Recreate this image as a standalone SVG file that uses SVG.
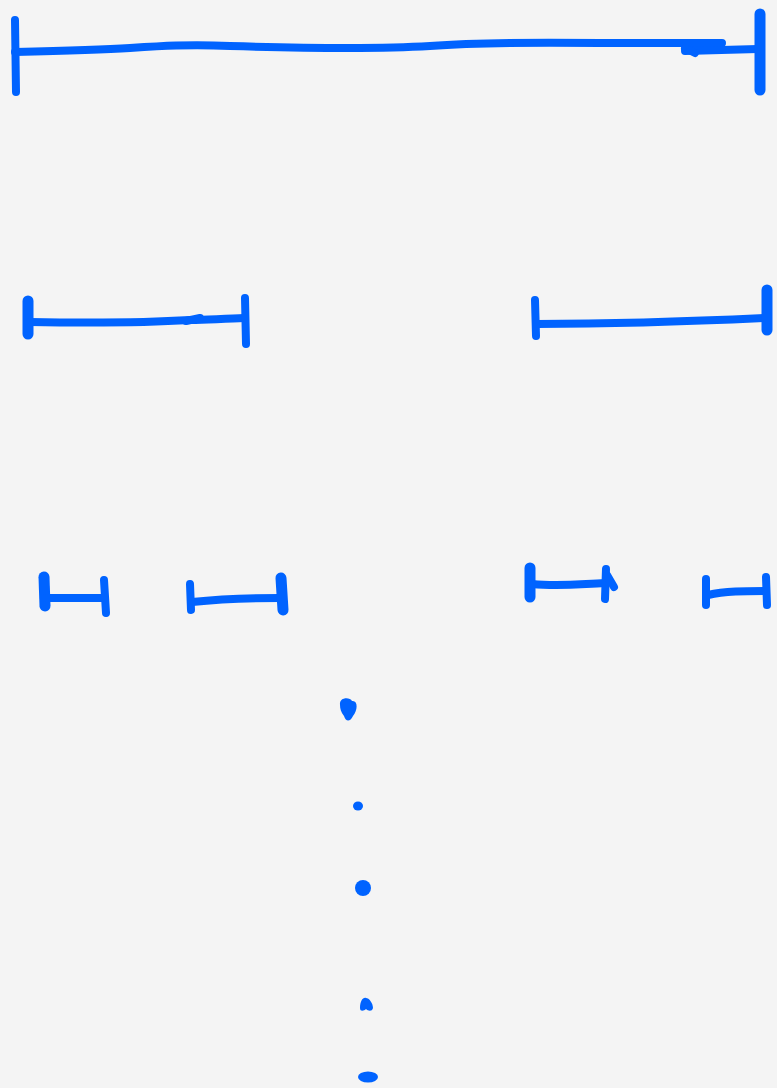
<svg xmlns="http://www.w3.org/2000/svg" width="777" height="1088" viewBox="0 0 777 1088">
<style>
.s{fill:none;stroke:#0063ff;stroke-width:8;stroke-linecap:round;stroke-linejoin:round}
.t{fill:none;stroke:#0063ff;stroke-width:11;stroke-linecap:round}
.d{fill:#0063ff}
</style>
<rect width="777" height="1088" fill="#f4f4f4"/>
<g id="level0">
<path class="s" d="M15,20 L16,92"/>
<path class="s" d="M15,52 C60,51 100,50 130,48 C160,46 190,44 230,46 C300,48 380,49 430,46 C470,43 520,42 600,43 L722,43"/>
<path class="s" d="M685,51 L758,49"/>
<path class="s" d="M685,48 L695,53"/>
<path class="t" d="M760,14 L760,90"/>
</g>
<g id="level1">
<path class="t" d="M28,301 L28,334"/>
<path class="s" d="M30,322 C90,323 140,323 190,320 C215,319 230,319 244,318"/>
<path class="s" d="M186,321 L200,318"/>
<path class="s" d="M245,298 L246,344"/>
<path class="s" d="M535,300 L536,336"/>
<path class="s" d="M537,324 C600,324 680,322 766,318"/>
<path class="t" d="M767,290 L767,330"/>
</g>
<g id="level2">
<path class="t" d="M44,577 L45,606"/>
<path class="s" d="M46,598 L104,598"/>
<path class="s" d="M104,580 L106,613"/>
<path class="s" d="M190,584 L191,610"/>
<path class="s" d="M192,602 C220,599 250,598 280,598"/>
<path class="t" d="M281,578 L283,610"/>
<path class="t" d="M530,568 L530,597"/>
<path class="s" d="M532,584 C560,587 580,584 605,583"/>
<path class="s" d="M606,569 L605,599"/>
<path class="s" d="M607,575 L614,587"/>
<path class="s" d="M706,579 L706,605"/>
<path class="s" d="M708,595 C725,591 745,591 766,591"/>
<path class="s" d="M766,577 L767,605"/>
</g>
<g id="dots">
<path class="d" d="M340,705 C339,697 350,697 352,701 C358,700 358,710 353,716 C350,722 346,722 344,716 C341,712 340,709 340,705 Z"/>
<ellipse class="d" cx="358" cy="806" rx="5" ry="4.5"/>
<circle class="d" cx="363" cy="888" r="8"/>
<path class="d" d="M360,1008 C360,1001 363,997 366,998 C369,998 373,1003 373,1008 C372,1012 368,1011 366,1009 C364,1011 360,1012 360,1008 Z"/>
<ellipse class="d" cx="368" cy="1077" rx="10" ry="5.5"/>
</g>
</svg>
